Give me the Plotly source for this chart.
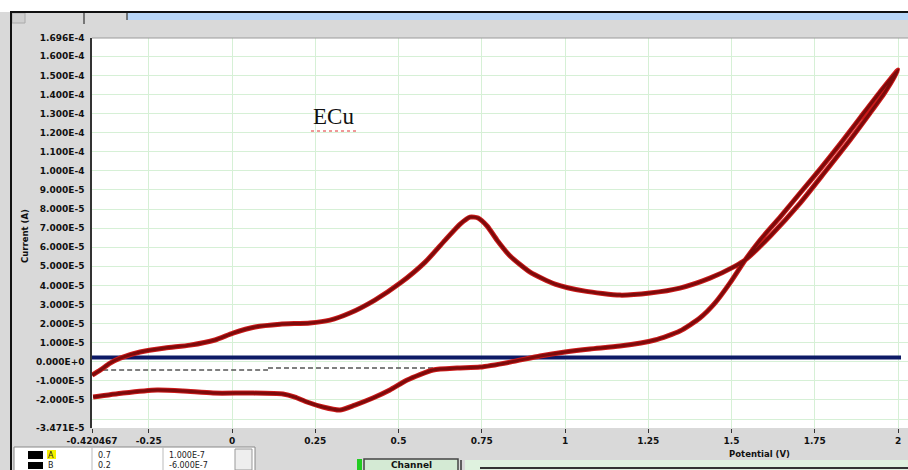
import plotly.graph_objects as go

# ---- cyclic voltammogram, ECu electrode ----
# forward sweep (potential in V, current in uA)
potential_fwd = [-0.420, -0.396, -0.366, -0.336, -0.276, -0.201, -0.126, -0.051, 0.003, 0.069,
                 0.144, 0.234, 0.294, 0.354, 0.429, 0.505, 0.580, 0.640, 0.685, 0.715,
                 0.739, 0.766, 0.796, 0.835, 0.895, 0.970, 1.060, 1.165, 1.255, 1.345,
                 1.435, 1.511, 1.541, 1.616, 1.706, 1.781, 1.856, 1.916, 1.961, 2.000]
current_fwd = [-7.0, -4.4, -0.7, 1.9, 5.1, 7.2, 8.7, 11.4, 15.0, 18.2,
               19.7, 20.3, 21.8, 25.5, 32.3, 41.2, 52.2, 63.7, 72.1, 75.8,
               75.3, 71.1, 63.7, 55.4, 47.0, 40.7, 37.0, 34.9, 36.0, 38.6,
               43.8, 50.1, 53.3, 65.8, 83.1, 99.5, 116.2, 130.3, 141.3, 152.8]

# reverse sweep
potential_rev = [2.000, 1.946, 1.886, 1.826, 1.766, 1.706, 1.646, 1.586, 1.541, 1.495,
                 1.450, 1.405, 1.345, 1.270, 1.165, 1.075, 1.000, 0.925, 0.835, 0.745,
                 0.676, 0.604, 0.526, 0.474, 0.423, 0.369, 0.324, 0.273, 0.225, 0.189,
                 0.153, 0.054, -0.057, -0.147, -0.225, -0.327, -0.417]
current_rev = [152.8, 141.3, 127.7, 114.0, 100.9, 88.4, 75.8, 63.8, 53.3, 41.2,
               30.7, 22.9, 16.1, 11.4, 8.2, 6.7, 5.1, 3.0, -0.2, -2.8,
               -3.3, -4.3, -9.6, -14.8, -19.0, -22.7, -25.3, -23.7, -21.1, -18.5,
               -16.9, -16.4, -16.4, -15.3, -14.8, -16.4, -18.5]

# cursor / baseline lines
baseline_potential = [-0.420467, 2.009]
baseline_current = [2.2, 2.2]
cursor_potential_a = [-0.387, 0.108]
cursor_current_a = [-4.3, -4.3]
cursor_potential_b = [0.108, 0.604]
cursor_current_b = [-3.3, -3.3]

# axis ticks
x_ticks = [-0.420467, -0.25, 0, 0.25, 0.5, 0.75, 1, 1.25, 1.5, 1.75, 2]
x_tick_text = ["-0.420467", "-0.25", "0", "0.25", "0.5", "0.75", "1", "1.25", "1.5", "1.75", "2"]
y_ticks = [-3.471e-5, -3e-5, -2e-5, -1e-5, 0, 1e-5, 2e-5, 3e-5, 4e-5, 5e-5, 6e-5, 7e-5, 8e-5,
           9e-5, 1e-4, 1.1e-4, 1.2e-4, 1.3e-4, 1.4e-4, 1.5e-4, 1.6e-4, 1.696e-4]
y_tick_text = ["-3.471E-5", "", "-2.000E-5", "-1.000E-5", "0.000E+0", "1.000E-5", "2.000E-5",
               "3.000E-5", "4.000E-5", "5.000E-5", "6.000E-5", "7.000E-5", "8.000E-5",
               "9.000E-5", "1.000E-4", "1.100E-4", "1.200E-4", "1.300E-4", "1.400E-4",
               "1.500E-4", "1.600E-4", "1.696E-4"]

# channel table rows
chan_names = ["A", "B"]
chan_col2 = ["0.7", "0.2"]
chan_col3 = ["1.000E-7", "-6.000E-7"]

UA = 1e-6
W, H = 908, 470
L, T, R, B = 92, 38, 0, 42


def px_x(p):
    return (p - L) / (W - L - R)


def px_y(p):
    return (H - B - p) / (H - T - B)


potential_all = potential_fwd + potential_rev[1:]
current_all = [c * UA for c in current_fwd + current_rev[1:]]

fig = go.Figure()

fig.add_trace(go.Scatter(x=baseline_potential, y=[c * UA for c in baseline_current], mode="lines",
                         line=dict(color="#0d1a66", width=4), hoverinfo="skip"))
for xs, ys in ((cursor_potential_a, cursor_current_a), (cursor_potential_b, cursor_current_b)):
    fig.add_trace(go.Scatter(x=xs, y=[c * UA for c in ys], mode="lines",
                             line=dict(color="#555555", width=1.5, dash="5px,3px"), hoverinfo="skip"))

# scan curve: bright rim under a dark core
fig.add_trace(go.Scatter(x=potential_all, y=current_all, mode="lines",
                         line=dict(color="#cc1a1a", width=5, shape="spline", smoothing=0.6)))
fig.add_trace(go.Scatter(x=potential_all, y=current_all, mode="lines",
                         line=dict(color="#7c0b0b", width=3, shape="spline", smoothing=0.6)))

tick_font = dict(family="DejaVu Sans", size=9, color="#111111", weight="bold")

fig.update_xaxes(range=[-0.420467, -0.420467 + (W - L - R) / 333.0],
                 tickmode="array", tickvals=x_ticks, ticktext=x_tick_text,
                 showgrid=True, gridcolor="#d6f0d6", gridwidth=1, zeroline=False,
                 ticks="outside", ticklen=4, tickcolor="#333333", tickwidth=1,
                 tickfont=tick_font, showline=False)
fig.update_yaxes(range=[-3.471e-5, 1.696e-4],
                 tickmode="array", tickvals=y_ticks, ticktext=y_tick_text,
                 showgrid=True, gridcolor="#d6f0d6", gridwidth=1, zeroline=False,
                 ticks="", tickfont=tick_font, ticklabelstandoff=4,
                 showline=True, linecolor="#333333", linewidth=1.5)

shapes = [
    # white strip above the window frame
    dict(type="rect", xref="paper", yref="paper", x0=px_x(0), x1=px_x(W), y0=px_y(12), y1=px_y(0),
         fillcolor="white", line_width=0, layer="below"),
    # tab bar
    dict(type="rect", xref="paper", yref="paper", x0=px_x(127), x1=px_x(W), y0=px_y(20), y1=px_y(13),
         fillcolor="#b9d6f7", line_width=0),
    dict(type="line", xref="paper", yref="paper", x0=px_x(84), x1=px_x(84), y0=px_y(24), y1=px_y(13),
         line=dict(color="#555555", width=1.5)),
    dict(type="line", xref="paper", yref="paper", x0=px_x(127), x1=px_x(127), y0=px_y(20), y1=px_y(13),
         line=dict(color="#555555", width=1.5)),
    dict(type="rect", xref="paper", yref="paper", x0=px_x(12), x1=px_x(25), y0=px_y(23), y1=px_y(13),
         fillcolor="#cfcfcf", line=dict(color="#aaaaaa", width=1)),
    # frame border
    dict(type="line", xref="paper", yref="paper", x0=px_x(10), x1=px_x(W), y0=px_y(12), y1=px_y(12),
         line=dict(color="#111111", width=2)),
    dict(type="line", xref="paper", yref="paper", x0=px_x(11), x1=px_x(11), y0=px_y(H), y1=px_y(12),
         line=dict(color="#111111", width=2)),
    # plot top border
    dict(type="line", xref="paper", yref="paper", x0=0, x1=1, y0=1, y1=1,
         line=dict(color="#9a9a9a", width=1)),
    # channel table
    dict(type="rect", xref="paper", yref="paper", x0=px_x(14), x1=px_x(255), y0=px_y(H + 2), y1=px_y(447),
         fillcolor="white", line=dict(color="#888888", width=1)),
    dict(type="line", xref="paper", yref="paper", x0=px_x(92), x1=px_x(92), y0=px_y(H), y1=px_y(447),
         line=dict(color="#bbbbbb", width=1)),
    dict(type="line", xref="paper", yref="paper", x0=px_x(163), x1=px_x(163), y0=px_y(H), y1=px_y(447),
         line=dict(color="#bbbbbb", width=1)),
    dict(type="rect", xref="paper", yref="paper", x0=px_x(235), x1=px_x(252), y0=px_y(H), y1=px_y(449),
         fillcolor="#eeeeee", line=dict(color="#999999", width=1)),
    dict(type="rect", xref="paper", yref="paper", x0=px_x(28), x1=px_x(43), y0=px_y(459), y1=px_y(451),
         fillcolor="#000000", line_width=0),
    dict(type="rect", xref="paper", yref="paper", x0=px_x(28), x1=px_x(43), y0=px_y(469), y1=px_y(462),
         fillcolor="#000000", line_width=0),
    dict(type="rect", xref="paper", yref="paper", x0=px_x(47), x1=px_x(56), y0=px_y(459), y1=px_y(450),
         fillcolor="#f5f000", line_width=0),
    # channel button and side panel
    dict(type="rect", xref="paper", yref="paper", x0=px_x(357), x1=px_x(362), y0=px_y(H), y1=px_y(459),
         fillcolor="#22cc22", line_width=0),
    dict(type="rect", xref="paper", yref="paper", x0=px_x(364), x1=px_x(458), y0=px_y(H + 3), y1=px_y(459),
         fillcolor="#d4ead4", line=dict(color="#444444", width=1.5)),
    dict(type="rect", xref="paper", yref="paper", x0=px_x(465), x1=px_x(W), y0=px_y(H), y1=px_y(460),
         fillcolor="#dff2df", line_width=0),
    dict(type="line", xref="paper", yref="paper", x0=px_x(461), x1=px_x(461), y0=px_y(H), y1=px_y(460),
         line=dict(color="#333333", width=1.5)),
    dict(type="line", xref="paper", yref="paper", x0=px_x(480), x1=px_x(W), y0=px_y(468), y1=px_y(468),
         line=dict(color="#333333", width=2)),
    # dotted underline of the sample label
    dict(type="line", xref="paper", yref="paper", x0=px_x(311), x1=px_x(356), y0=px_y(131), y1=px_y(131),
         line=dict(color="#e03030", width=1, dash="dot")),
]

small = dict(family="DejaVu Sans", size=8, color="#222222")
annotations = [
    dict(text="ECu", xref="paper", yref="paper", x=px_x(333), y=px_y(117), showarrow=False,
         font=dict(family="Liberation Serif", size=23, color="#111111"), xanchor="center", yanchor="middle"),
    dict(text="Current (A)", xref="paper", yref="paper", x=px_x(25), y=px_y(236), showarrow=False,
         textangle=-90, font=dict(family="DejaVu Sans", size=8.5, color="#111111", weight="bold"),
         xanchor="center", yanchor="middle"),
    dict(text="Potential (V)", xref="paper", yref="paper", x=px_x(759), y=px_y(454), showarrow=False,
         font=dict(family="DejaVu Sans", size=8.5, color="#111111", weight="bold"),
         xanchor="center", yanchor="middle"),
    dict(text="Channel", xref="paper", yref="paper", x=px_x(411), y=px_y(464.5), showarrow=False,
         font=dict(family="DejaVu Sans", size=9, color="#111111", weight="bold"),
         xanchor="center", yanchor="middle"),
]
for i, (nm, c2, c3) in enumerate(zip(chan_names, chan_col2, chan_col3)):
    yy = px_y(455 + 10 * i)
    annotations += [
        dict(text=nm, xref="paper", yref="paper", x=px_x(51), y=yy, showarrow=False, font=small,
             xanchor="center", yanchor="middle"),
        dict(text=c2, xref="paper", yref="paper", x=px_x(96), y=yy, showarrow=False, font=small,
             xanchor="left", yanchor="middle"),
        dict(text=c3, xref="paper", yref="paper", x=px_x(167), y=yy, showarrow=False, font=small,
             xanchor="left", yanchor="middle"),
    ]

fig.update_layout(
    width=W, height=H, autosize=False,
    margin=dict(l=L, r=R, t=T, b=B, pad=0),
    paper_bgcolor="#d9d9d9", plot_bgcolor="white",
    showlegend=False, shapes=shapes, annotations=annotations,
)

fig.write_html("out.html")
